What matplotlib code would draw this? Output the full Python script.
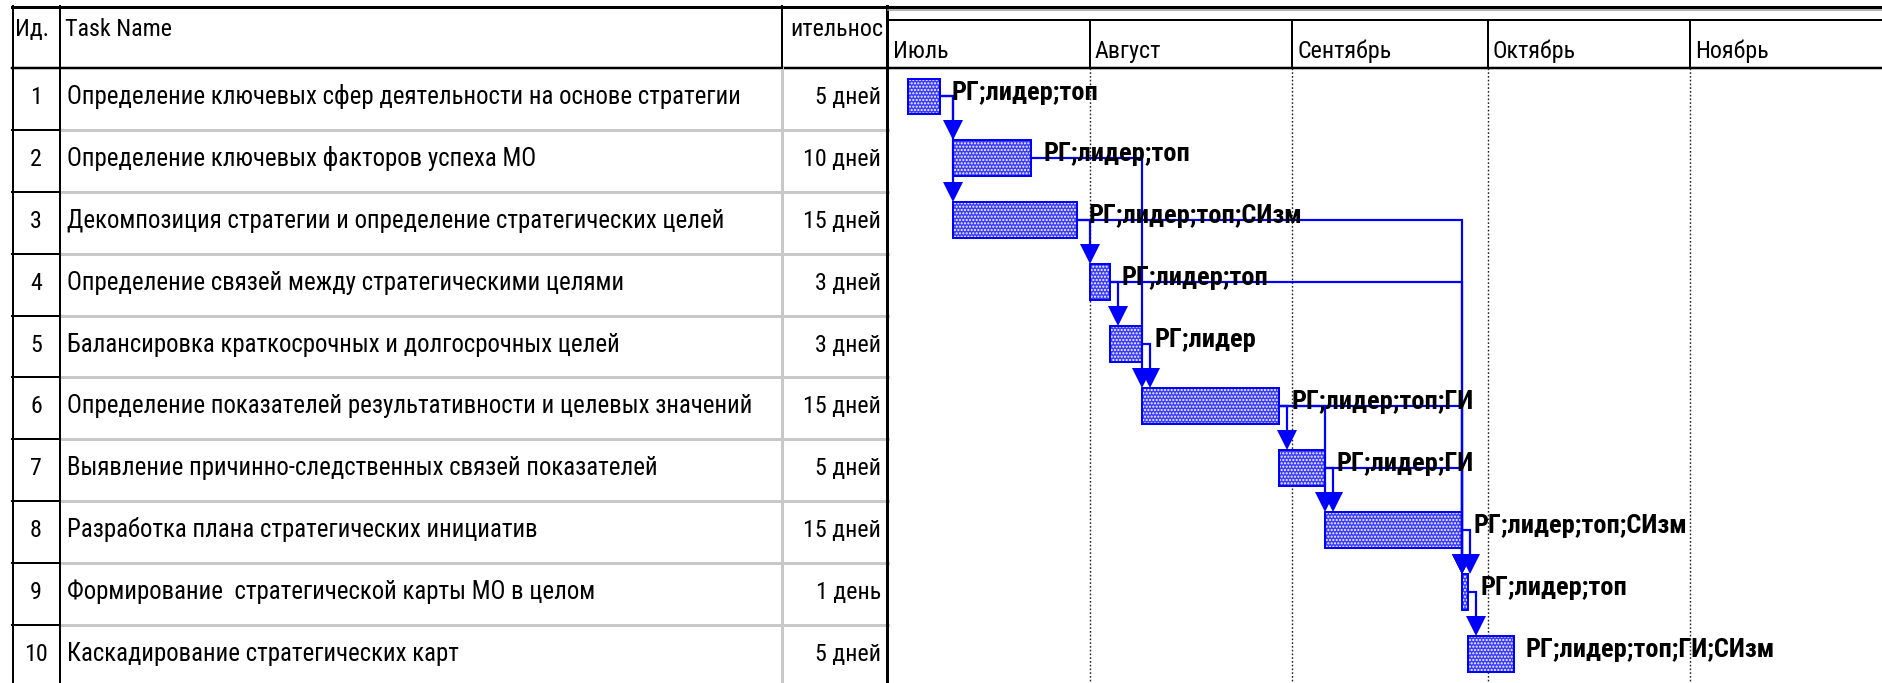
import matplotlib
matplotlib.use("Agg")
import matplotlib.pyplot as plt
import matplotlib.dates as mdates
from matplotlib import font_manager as fm
from datetime import date
import numpy as np

# ---------------- data ----------------
task_ids = [1, 2, 3, 4, 5, 6, 7, 8, 9, 10]
task_names = [
    "Определение ключевых сфер деятельности на основе стратегии",
    "Определение ключевых факторов успеха МО",
    "Декомпозиция стратегии и определение стратегических целей",
    "Определение связей между стратегическими целями",
    "Балансировка краткосрочных и долгосрочных целей",
    "Определение показателей результативности и целевых значений",
    "Выявление причинно-следственных связей показателей",
    "Разработка плана стратегических инициатив",
    "Формирование  стратегической карты МО в целом",
    "Каскадирование стратегических карт",
]
durations = ["5 дней", "10 дней", "15 дней", "3 дней", "3 дней",
             "15 дней", "5 дней", "15 дней", "1 день", "5 дней"]
start_dates = ["2011-07-04", "2011-07-11", "2011-07-11", "2011-08-01", "2011-08-04",
               "2011-08-09", "2011-08-30", "2011-09-06", "2011-09-27", "2011-09-28"]
finish_dates = ["2011-07-08", "2011-07-22", "2011-07-29", "2011-08-03", "2011-08-08",
                "2011-08-29", "2011-09-05", "2011-09-26", "2011-09-27", "2011-10-04"]
resources = ["РГ;лидер;топ", "РГ;лидер;топ", "РГ;лидер;топ;СИзм", "РГ;лидер;топ",
             "РГ;лидер", "РГ;лидер;топ;ГИ", "РГ;лидер;ГИ", "РГ;лидер;топ;СИзм",
             "РГ;лидер;топ", "РГ;лидер;топ;ГИ;СИзм"]
predecessors = [[], [1], [1], [3], [4], [2, 5], [6], [6, 7], [3, 4, 6, 7, 8], [9]]
month_labels = ["Июль", "Август", "Сентябрь", "Октябрь", "Ноябрь"]
month_starts = ["2011-07-01", "2011-08-01", "2011-09-01", "2011-10-01", "2011-11-01"]
header_labels = ["Ид.", "Task Name", "ительнос"]

# ---------------- layout / style ----------------
W, H = 1883, 683
TABLE_L, SPLIT, RIGHT = 12, 888, 1883
TOP, HEAD_B = 6, 68
ROW_H = 61.9
COL_ID_R, COL_NAME_R = 60, 782
PX_PER_DAY = 6.52
BAR_H = 0.58
BAR_SHIFT = -0.04
STUB_DAYS = 1.2
ARROW_MS = 14.5
BLUE = "#0000ff"
BAR_FILL = "#3c3cff"
GRID_GRAY = "#c8c8c8"


def px(v):
    return v * 0.72


def yd(p):
    return (p - HEAD_B) / ROW_H


available = {f.name for f in fm.fontManager.ttflist}
# (family, size for task names, size for other text, size for bold bar labels)
candidates = [("Liberation Sans Narrow", 19.7, 18.9, 19.8),
              ("Roboto Condensed", 17.9, 17.3, 19.0),
              ("Liberation Sans", 16.2, 15.5, 16.4)]
FONT, FS_NAME, FS, FS_LAB = next((c for c in candidates if c[0] in available),
                                 ("DejaVu Sans", 14.7, 14.1, 14.9))
FAM = [FONT, "DejaVu Sans"]

fig = plt.figure(figsize=(W / 100, H / 100), dpi=100)
fig.patch.set_facecolor("white")
ax_t = fig.add_axes([TABLE_L / W, 0, (SPLIT - TABLE_L) / W, (H - TOP) / H])
ax_g = fig.add_axes([SPLIT / W, 0, (RIGHT - SPLIT) / W, (H - TOP) / H])
for ax in (ax_t, ax_g):
    ax.set_ylim(yd(H), yd(TOP))
    ax.axis("off")
ax_t.set_xlim(TABLE_L, SPLIT)
x_left = mdates.date2num(date.fromisoformat(month_starts[0]))
ax_g.set_xlim(x_left, x_left + (RIGHT - SPLIT) / PX_PER_DAY)

n = len(task_ids)
row_c = np.arange(n) + 0.5

# ---------------- table ----------------
ax_t.plot([TABLE_L, SPLIT], [yd(TOP + 1)] * 2, color="k", lw=px(3), clip_on=False)
ax_t.plot([TABLE_L, SPLIT], [0, 0], color="k", lw=px(2.5), clip_on=False)
for i in range(1, n):
    ax_t.plot([COL_ID_R, SPLIT], [i, i], color=GRID_GRAY, lw=px(3), clip_on=False)
    ax_t.plot([TABLE_L, COL_ID_R], [i, i], color="k", lw=px(2), clip_on=False)
ax_t.plot([TABLE_L + 1] * 2, [yd(TOP), yd(H)], color="k", lw=px(2), clip_on=False)
ax_t.plot([COL_ID_R] * 2, [yd(TOP), yd(H)], color="k", lw=px(2), clip_on=False)
ax_t.plot([COL_NAME_R] * 2, [0, yd(H)], color=GRID_GRAY, lw=px(3), clip_on=False)
ax_t.plot([COL_NAME_R] * 2, [yd(TOP), 0], color="k", lw=px(2), clip_on=False)
ax_t.plot([SPLIT - 1] * 2, [yd(TOP), yd(H)], color="k", lw=px(3), clip_on=False)

hb = yd(36)
ax_t.text(TABLE_L + 3, hb, header_labels[0], family=FAM, fontsize=FS, va="baseline", ha="left")
ax_t.text(COL_ID_R + 5, hb, header_labels[1], family=FAM, fontsize=FS, va="baseline", ha="left")
ax_t.text(SPLIT - 5, hb, header_labels[2], family=FAM, fontsize=FS, va="baseline", ha="right")

for i in range(n):
    yb = row_c[i] + 0.08
    ax_t.text((TABLE_L + COL_ID_R) / 2, yb, str(task_ids[i]), family=FAM, fontsize=FS,
              va="baseline", ha="center")
    ax_t.text(COL_ID_R + 7, yb, task_names[i], family=FAM, fontsize=FS_NAME,
              va="baseline", ha="left")
    ax_t.text(SPLIT - 7, yb, durations[i], family=FAM, fontsize=FS,
              va="baseline", ha="right")

# ---------------- gantt header ----------------
gx0, gx1 = ax_g.get_xlim()
ax_g.plot([gx0, gx1], [yd(TOP + 1)] * 2, color="k", lw=px(3), clip_on=False)
ax_g.plot([gx0, gx1], [yd(10)] * 2, color="#a0a0a0", lw=px(1.5), clip_on=False)
ax_g.plot([gx0, gx1], [yd(20)] * 2, color="k", lw=px(2), clip_on=False)
ax_g.plot([gx0, gx1], [0, 0], color="k", lw=px(2.5), clip_on=False)

m_x = [mdates.date2num(date.fromisoformat(d)) for d in month_starts]
for k, (mx, lab) in enumerate(zip(m_x, month_labels)):
    if k > 0:
        ax_g.plot([mx, mx], [yd(20), 0], color="k", lw=px(2), clip_on=False)
        ax_g.plot([mx, mx], [0, yd(H)], color="#202020", lw=1.0,
                  linestyle=(0, (1.2, 1.5)), clip_on=False)
    ax_g.annotate(lab, xy=(mx, yd(58)), xytext=(3.5, 0), textcoords="offset points",
                  family=FAM, fontsize=FS, va="baseline", ha="left")

# ---------------- bars ----------------
x_start = np.array([mdates.date2num(date.fromisoformat(d)) for d in start_dates])
x_end = np.array([mdates.date2num(date.fromisoformat(d)) for d in finish_dates]) + 1.0
bar_c = row_c + BAR_SHIFT
bar_top = bar_c - BAR_H / 2

ax_g.barh(bar_c, x_end - x_start, left=x_start, height=BAR_H, color=BAR_FILL,
          edgecolor="none", linewidth=0, zorder=3)
ax_g.barh(bar_c, x_end - x_start, left=x_start, height=BAR_H, facecolor="none",
          edgecolor="white", linewidth=0, hatch=".....", zorder=4)
ax_g.barh(bar_c, x_end - x_start, left=x_start, height=BAR_H, facecolor="none",
          edgecolor=BLUE, linewidth=px(2), zorder=5)

# ---------------- links ----------------
arrow_h = (ARROW_MS / 0.72) / ROW_H
for s, preds in enumerate(predecessors):
    for pid in preds:
        p = pid - 1
        x0, y0 = x_end[p], bar_c[p]
        xv = x_start[s] if (x_start[s] - x0) >= STUB_DAYS else x0 + STUB_DAYS
        ytip = bar_top[s]
        ax_g.plot([x0, xv, xv], [y0, y0, ytip - arrow_h * 0.6], color=BLUE,
                  lw=px(2.2), zorder=6, solid_joinstyle="miter")
        ax_g.plot([xv], [ytip - arrow_h / 2], marker="v", ms=ARROW_MS, color=BLUE,
                  mec=BLUE, mew=0, zorder=7)

# ---------------- resource labels ----------------
for i in range(n):
    ax_g.annotate(resources[i], xy=(x_end[i], bar_c[i]), xytext=(8.5, -2.2),
                  textcoords="offset points", family=FAM, fontsize=FS_LAB,
                  fontweight="bold", va="baseline", ha="left", zorder=8)

fig.savefig("out.png", dpi=100, facecolor="white")
